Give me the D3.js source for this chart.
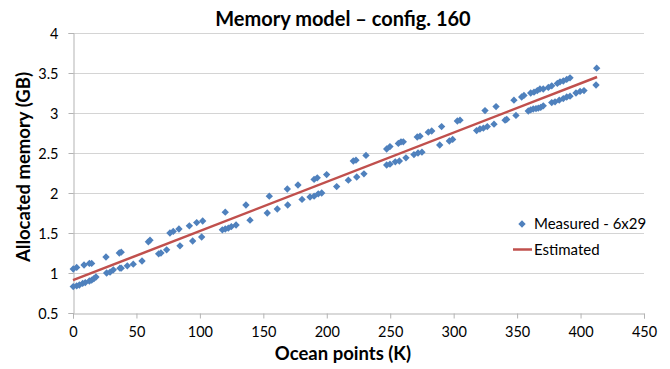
<!DOCTYPE html>
<html>
<head>
<meta charset="utf-8">
<script src="https://cdn.jsdelivr.net/npm/d3@7"></script>
<style>
  body { margin: 0; background: #fff; }
  text { font-family: Lato, "Open Sans", sans-serif; fill: #000; }
</style>
</head>
<body>
<svg id="chart"></svg>
<script>
// measured points (ocean points in K, memory in GB)
var measuredK = [
  0.2, 2.9, 8.7, 12.9, 14.7, 26, 36.5, 38, 59.4, 60.7, 76.4, 79, 83.5, 91.7, 97.5, 102.2,
  120, 136.3, 154.7, 168.9, 177.3, 190, 192.5, 199.9, 220.9, 223, 230.9, 247.2, 249.8,
  256.4, 258.5, 260.3, 271.3, 273.5, 280, 282.7, 290.5, 302.9, 305, 324.7, 333.4, 347.5,
  353.6, 355.4, 360.7, 363.3, 365.9, 368, 370.6, 374.6, 377.3, 381.7, 383.8, 386.4, 389.1,
  391.7, 412.7,
  0.2, 2.9, 5.0, 7.6, 9.7, 12.9, 14.7, 16.5, 18.1, 26.5, 29.2, 31.8, 37, 38, 42.8, 47.5,
  54.4, 67.5, 69.3, 73.8, 84.3, 94.3, 101.4, 117.7, 120, 122.4, 124.8, 128.5, 139.5, 153.1,
  161, 169.2, 180.5, 186.8, 190, 193.3, 196, 207.8, 217, 223.6, 229.3, 247.2, 249.8, 254,
  257.2, 262.4, 268.7, 271.9, 275, 289, 296.6, 299.2, 318.1, 320.7, 323.4, 326.5, 331.8,
  340.5, 341.8, 349.1, 358.8, 360.7, 362.7, 364.9, 366.7, 368.6, 370.6, 377.3, 379.9, 383.2,
  386.4, 389.1, 391.7, 396.4, 399.6, 402.7, 412.2
];
var measuredGB = [
  1.05, 1.07, 1.10, 1.12, 1.12, 1.20, 1.25, 1.26, 1.39, 1.41, 1.50, 1.52, 1.55, 1.59, 1.63, 1.65,
  1.76, 1.85, 1.96, 2.05, 2.10, 2.17, 2.19, 2.23, 2.40, 2.41, 2.47, 2.55, 2.58,
  2.62, 2.64, 2.64, 2.70, 2.71, 2.76, 2.775, 2.83, 2.90, 2.91, 3.03, 3.08, 3.16,
  3.20, 3.22, 3.25, 3.26, 3.28, 3.30, 3.30, 3.32, 3.34, 3.37, 3.39, 3.40, 3.42,
  3.44, 3.56,
  0.83, 0.84, 0.85, 0.87, 0.88, 0.90, 0.91, 0.93, 0.95, 1.00, 1.01, 1.04, 1.06, 1.06, 1.09, 1.11,
  1.15, 1.24, 1.25, 1.29, 1.34, 1.40, 1.45, 1.54, 1.55, 1.56, 1.58, 1.60, 1.66, 1.75,
  1.80, 1.85, 1.92, 1.95, 1.96, 1.99, 2.00, 2.08, 2.16, 2.20, 2.24, 2.35, 2.36, 2.39,
  2.40, 2.44, 2.48, 2.50, 2.51, 2.60, 2.65, 2.67, 2.78, 2.80, 2.81, 2.83, 2.86,
  2.91, 2.92, 2.97, 3.025, 3.04, 3.05, 3.055, 3.06, 3.07, 3.09, 3.13, 3.14, 3.16,
  3.18, 3.20, 3.21, 3.25, 3.27, 3.28, 3.35
];
// estimated model line
var estimatedK = [0, 413];
var estimatedGB = [0.91, 3.45];

var xTicks = [0, 50, 100, 150, 200, 250, 300, 350, 400, 450];
var yTicks = [0.5, 1, 1.5, 2, 2.5, 3, 3.5, 4];

var svgWidth = 670, svgHeight = 369;
var margin = {top: 33, right: 26, bottom: 56, left: 73};
var width = svgWidth - margin.left - margin.right;
var height = svgHeight - margin.top - margin.bottom;

var svg = d3.select('#chart')
  .attr('width', svgWidth)
  .attr('height', svgHeight);

var g = svg.append('g')
  .attr('transform', 'translate(' + margin.left + ',' + margin.top + ')');

var x = d3.scaleLinear().domain([0, 450]).range([0, width]);
var y = d3.scaleLinear().domain([0.5, 4]).range([height, 0]);

// gridlines
g.selectAll('.grid')
  .data(yTicks.slice(1))
  .enter().append('line')
  .attr('x1', 0).attr('x2', width)
  .attr('y1', function(d) { return Math.round(y(d)) + 0.5; })
  .attr('y2', function(d) { return Math.round(y(d)) + 0.5; })
  .attr('stroke', '#d4d4d4')
  .attr('stroke-width', 1);

var xAxis = g.append('g')
  .attr('transform', 'translate(0,' + (height + 0.5) + ')')
  .call(d3.axisBottom(x).tickValues(xTicks).tickSize(5).tickPadding(8));
var yAxis = g.append('g')
  .attr('transform', 'translate(0.5,0)')
  .call(d3.axisLeft(y).tickValues(yTicks).tickSize(5).tickPadding(10)
    .tickFormat(function(d) { return d; }));

[xAxis, yAxis].forEach(function(a) {
  a.selectAll('path, line').attr('stroke', '#b3b3b3');
  a.selectAll('text').style('font-family', 'Lato, sans-serif').style('font-size', '14.5px').attr('fill', '#000');
});
yAxis.selectAll('text').attr('dy', '0.36em');

// estimated line
var line = d3.line()
  .x(function(d) { return x(d[0]); })
  .y(function(d) { return y(d[1]); });

g.append('path')
  .datum(d3.zip(estimatedK, estimatedGB))
  .attr('fill', 'none')
  .attr('stroke', '#c0504d')
  .attr('stroke-width', 2.5)
  .attr('d', line);

// measured points
var diamond = d3.symbol().type(d3.symbolSquare).size(27);
g.selectAll('.pt')
  .data(d3.zip(measuredK, measuredGB))
  .enter().append('path')
  .attr('class', 'pt')
  .attr('d', diamond)
  .attr('fill', '#4f81bd')
  .attr('transform', function(d) {
    return 'translate(' + x(d[0]) + ',' + y(d[1]) + ') rotate(45)';
  });

// title
svg.append('text')
  .attr('x', 343).attr('y', 26)
  .attr('text-anchor', 'middle')
  .style('font-size', '20px').style('font-weight', 'bold')
  .text('Memory model – config. 160');

svg.append('text')
  .attr('x', 343).attr('y', 360)
  .attr('text-anchor', 'middle')
  .style('font-size', '18.5px').style('font-weight', 'bold')
  .text('Ocean points (K)');

svg.append('text')
  .attr('transform', 'translate(30,167) rotate(-90)')
  .attr('text-anchor', 'middle')
  .style('font-size', '18.5px').style('font-weight', 'bold')
  .text('Allocated memory (GB)');

// legend
var legend = svg.append('g');
legend.append('path')
  .attr('d', diamond)
  .attr('fill', '#4f81bd')
  .attr('transform', 'translate(522,224) rotate(45)');
legend.append('text')
  .attr('x', 534).attr('y', 229)
  .style('font-size', '15px')
  .text('Measured - 6x29');
legend.append('line')
  .attr('x1', 513).attr('x2', 532)
  .attr('y1', 249.5).attr('y2', 249.5)
  .attr('stroke', '#c0504d')
  .attr('stroke-width', 2.5);
legend.append('text')
  .attr('x', 534).attr('y', 255)
  .style('font-size', '15px')
  .text('Estimated');
</script>
</body>
</html>
